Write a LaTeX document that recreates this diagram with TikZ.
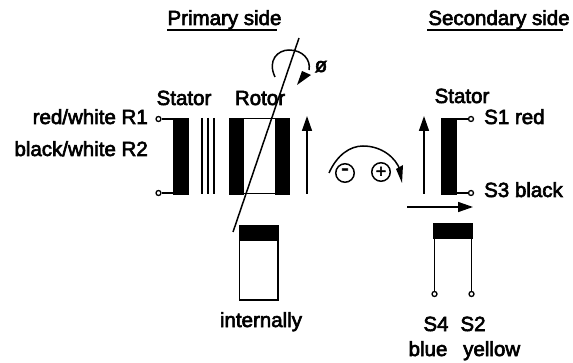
\documentclass[tikz,border=0pt]{standalone}
\usepackage{fontspec}
\setmainfont[FakeBold=3]{Liberation Sans}
\usetikzlibrary{arrows.meta}
\tikzset{
  lbl/.style={inner sep=0pt,font=\fontsize{20.5}{22}\selectfont,text=black},
  blk/.style={fill=black,draw=black,line width=0.5pt},
  wire/.style={draw=black,line width=1.5pt},
  thin wire/.style={draw=black,line width=1.5pt},
  term/.style={circle,draw=black,fill=white,line width=1.3pt,minimum size=5pt,inner sep=0pt},
  up/.style={draw=black,line width=1.5pt,-{Triangle[length=15pt,width=10pt]}},
  sym/.style={circle,draw=black,line width=1.5pt,minimum size=18.5pt,inner sep=0pt}
}
\begin{document}
\begin{tikzpicture}[x=1pt,y=-1pt]
\useasboundingbox (0,0) rectangle (573,363);
% headings
\node[lbl,anchor=base] (prim) at (224.5,25) {Primary side};
\node[lbl,anchor=base] (sec) at (499,25) {Secondary side};
\draw[wire] (167,30) -- (277,30);
\draw[wire] (427,30) -- (563,30);
% left labels
\node[lbl,anchor=base] (st1) at (184,105) {Stator};
\node[lbl,anchor=base] (ro) at (260,105) {Rotor};
\node[lbl,anchor=base east] (r1) at (148,124) {red/white R1};
\node[lbl,anchor=base east] (r2) at (148,156) {black/white R2};
% primary stator
\fill[blk] (173,118) rectangle (188,194);
\node[term] (t1) at (158.5,119) {};
\node[term] (t2) at (158.5,193) {};
\coordinate (t1e) at (173,119);
\coordinate (t2e) at (173,193);
\draw[wire] (t1) -- (t1e);
\draw[wire] (t2) -- (t2e);
\foreach \x in {202,208,214} \draw[wire] (\x,118) -- (\x,194);
% rotor
\fill[blk] (229,118) rectangle (243,194);
\fill[blk] (275,118) rectangle (289,194);
\draw[wire] (243,118.5) -- (275,118.5);
\draw[wire] (243,193.5) -- (275,193.5);
% axis
\draw[thin wire] (299,38) -- (233,232);
% rotation arrow
\draw[wire] (275,77) .. controls (267,60) and (278,50) .. (289,50) .. controls (303,50) and (311,60) .. (309,70);
\fill (297,85) -- (302,71) -- (311,75) -- cycle;
\node[lbl,anchor=base] (phi) at (321,72) {ø};
% arrows
\coordinate (a1s) at (307,194); \coordinate (a1e) at (307,116);
\draw[up] (a1s) -- (a1e);
\coordinate (a2s) at (424,194); \coordinate (a2e) at (424,116);
\draw[up] (a2s) -- (a2e);
\coordinate (a3s) at (407,207); \coordinate (a3e) at (473,207);
\draw[up] (a3s) -- (a3e);
% signs
\node[sym] (minus) at (345,173) {};
\node[sym] (plus) at (381,172) {};
\node[lbl,font=\fontsize{22}{22}\selectfont] (minussign) at (345,172) {-};
\node[lbl,font=\fontsize{18}{18}\selectfont] (plussign) at (plus) {+};
\draw[wire] (329,173) .. controls (337,155) and (350,146) .. (363,146) .. controls (382,146) and (396,158) .. (400,170);
\fill (402,183) -- (396,169) -- (403,165) -- cycle;
% secondary stator
\node[lbl,anchor=base] (st2) at (462,103) {Stator};
\fill[blk] (441,118) rectangle (456,194);
\node[term] (s1) at (471,119) {};
\node[term] (s3) at (471,193) {};
\coordinate (s1e) at (456,119);
\coordinate (s3e) at (456,193);
\draw[wire] (s1e) -- (s1);
\draw[wire] (s3e) -- (s3);
\node[lbl,anchor=base west] (s1l) at (484,124) {S1 red};
\node[lbl,anchor=base west] (s3l) at (484,197) {S3 black};
% internal winding
\fill[blk] (239.5,225.5) rectangle (278,240);
\draw[wire] (239.5,240) rectangle (278,300);
\node[lbl,anchor=base] (int) at (261,327) {internally};
% secondary rotor winding
\fill[blk] (433.5,223.5) rectangle (472,238);
\node[term] (s4) at (434.5,294) {};
\node[term] (s2) at (471.5,294) {};
\coordinate (s4t) at (434.5,238);
\coordinate (s2t) at (471.5,238);
\draw[wire] (s4t) -- (s4);
\draw[wire] (s2t) -- (s2);
\node[lbl,anchor=base] (s4l) at (436,331) {S4};
\node[lbl,anchor=base] (s2l) at (473,331) {S2};
\node[lbl,anchor=base] (bl) at (428,356) {blue};
\node[lbl,anchor=base west] (ye) at (463,356) {yellow};
\end{tikzpicture}
\end{document}
